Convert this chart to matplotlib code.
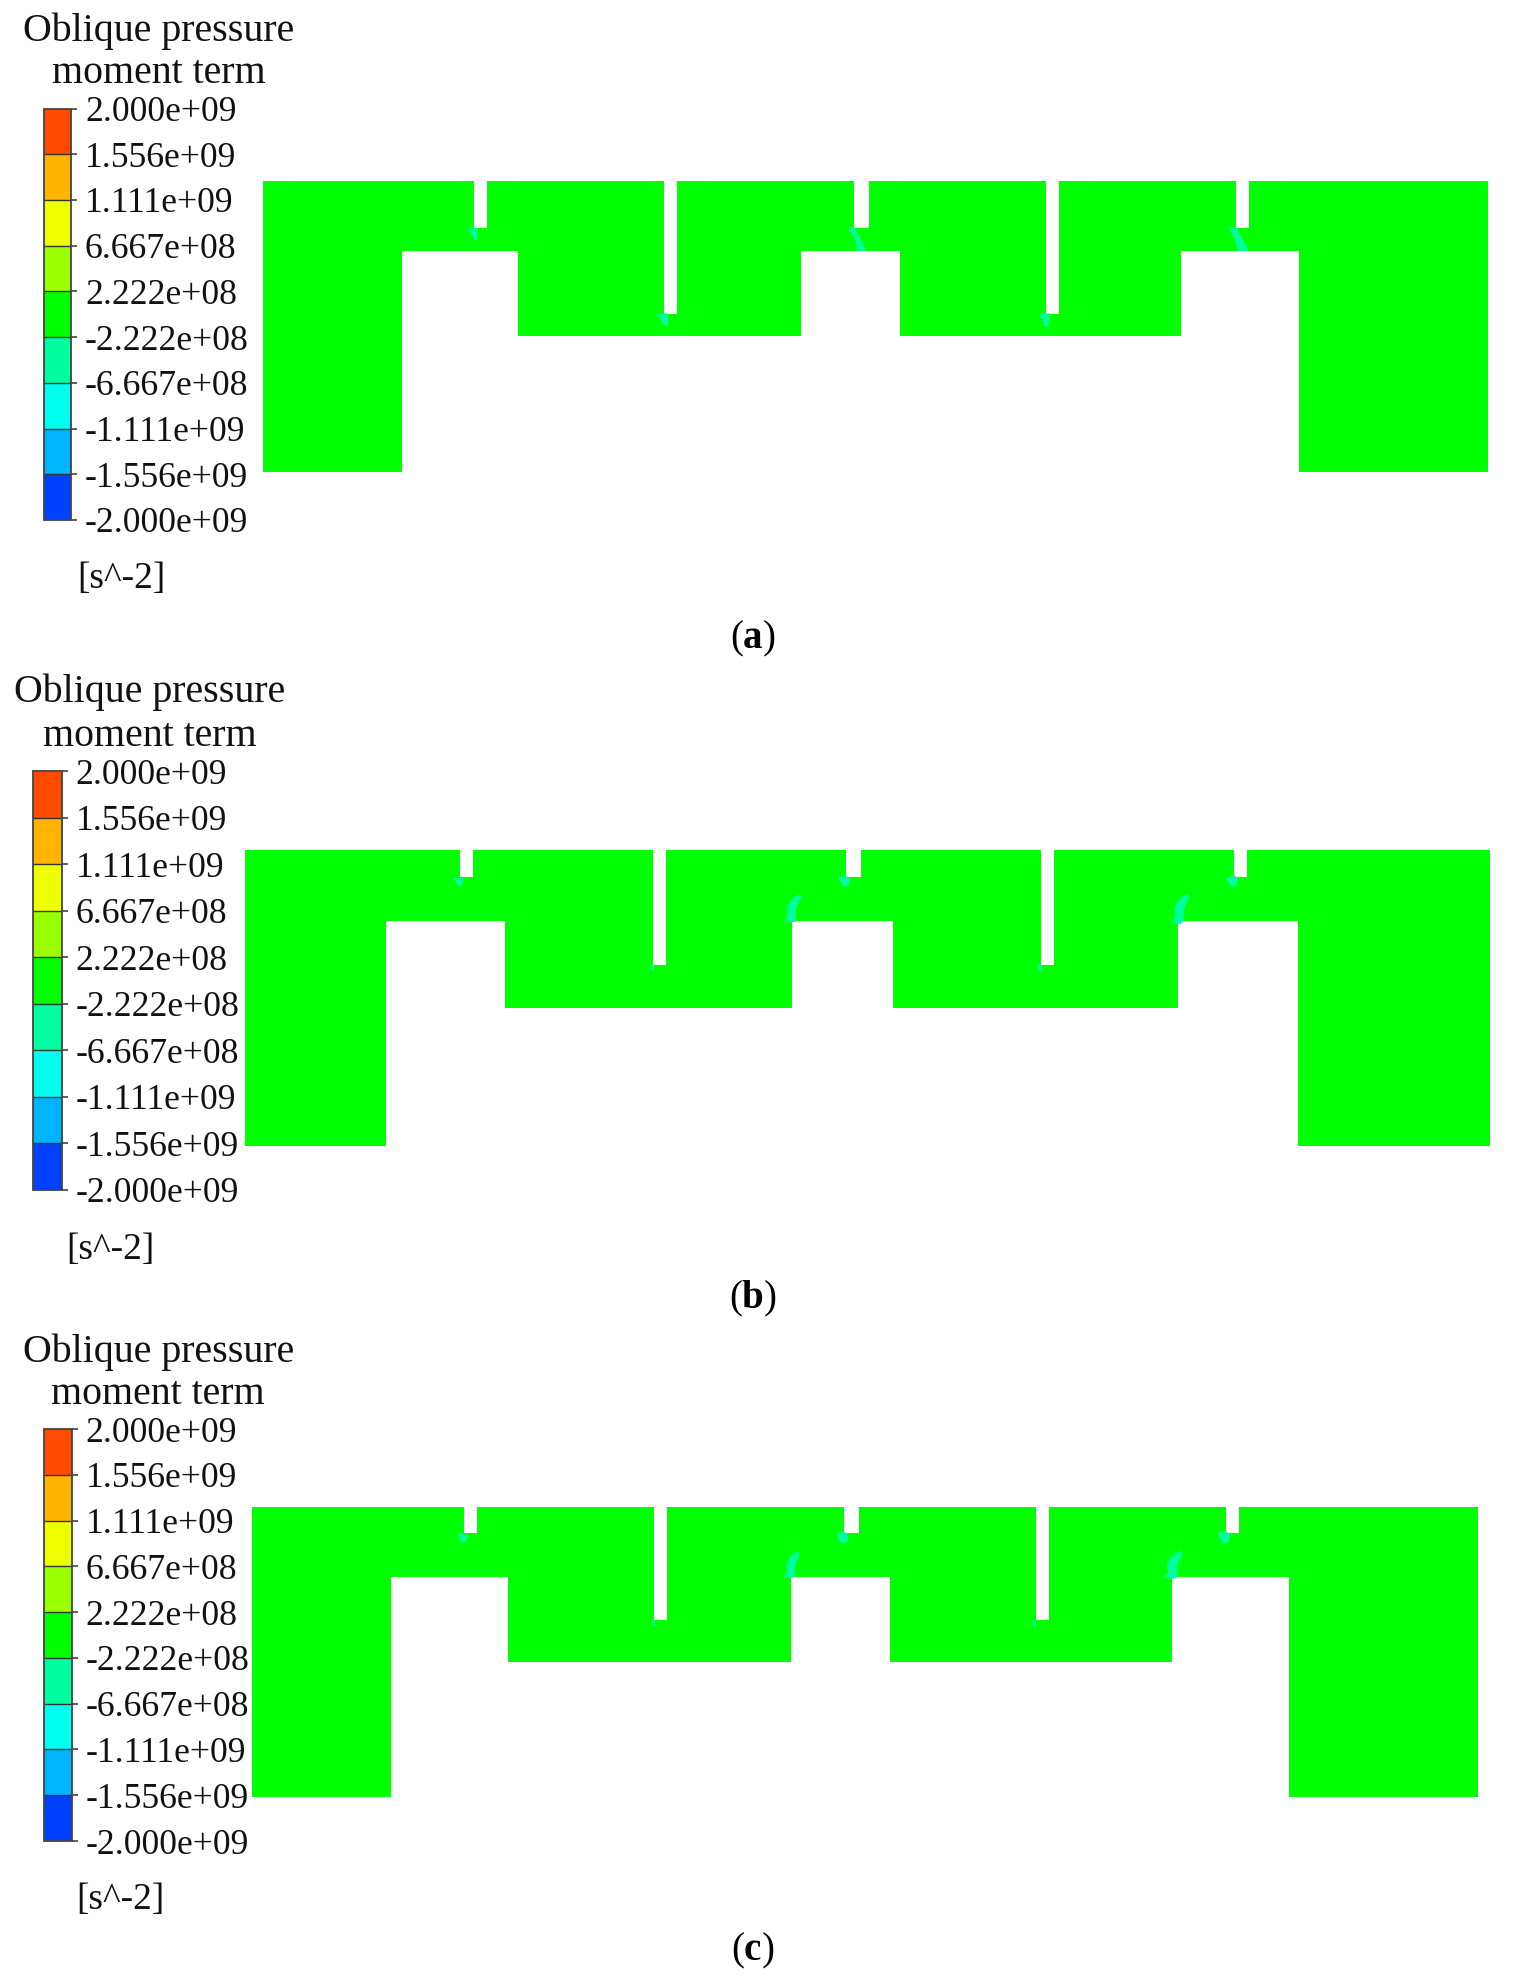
#%% import
import numpy as np
import matplotlib
matplotlib.use('Agg')
import matplotlib.pyplot as plt
from matplotlib.cm import ScalarMappable
from matplotlib.colors import BoundaryNorm, ListedColormap
from matplotlib.patches import Polygon

plt.rcParams['font.family'] = ['Liberation Serif', 'DejaVu Serif']
plt.rcParams['mathtext.fontset'] = 'custom'
plt.rcParams['mathtext.rm'] = 'Liberation Serif'
plt.rcParams['mathtext.bf'] = 'Liberation Serif:bold'

#%% data
levels = [-2.000e9, -1.556e9, -1.111e9, -6.667e8, -2.222e8, 2.222e8, 6.667e8, 1.111e9, 1.556e9, 2.000e9]
level_labels = ['-2.000e+09', '-1.556e+09', '-1.111e+09', '-6.667e+08', '-2.222e+08',
                '2.222e+08', '6.667e+08', '1.111e+09', '1.556e+09', '2.000e+09']
band_colors = ['#0040ff', '#00b4ff', '#00ffee', '#00ffa0', '#00ff00',
               '#99ff00', '#eeff00', '#ffb400', '#ff4a00']
field_color = '#00ff00'
blip_color = '#00ffa0'
title_lines = ['Oblique pressure', 'moment term']
unit_text = '[s^-2]'
captions = ['a', 'b', 'c']

# outline of the section in each panel, picture pixels
# left, left leg inner, right leg inner, right, top, web bottom, block bottom, leg bottom
frame_a = [263, 401.5, 1298.5, 1487.5, 181, 251, 336, 471.5]
frame_b = [244.7, 385.7, 1297.7, 1490, 850, 921, 1008, 1145.5]
frame_c = [251.7, 390.7, 1289.2, 1478, 1506.5, 1577, 1662.3, 1797]
blocks_a = [(518.3, 801), (900.2, 1181.3)]
blocks_b = [(504.7, 792), (892.5, 1178.4)]
blocks_c = [(508, 791), (890.1, 1171.5)]
slots_a = [(474, 487, 228), (664.3, 677, 314), (854.3, 868.7, 228), (1045.8, 1058.7, 314), (1235.8, 1248.8, 228)]
slots_b = [(459.7, 472.7, 877.3), (652.7, 666, 965.3), (846, 860.7, 877.3), (1040.5, 1053.9, 965.3), (1234.2, 1247.2, 877.3)]
slots_c = [(463.7, 476.7, 1533.3), (654, 666.7, 1620.3), (844.3, 858.7, 1533.3), (1035.7, 1048.6, 1620.3), (1226.1, 1239.1, 1533.3)]

# small regions at the slot tips
blips_a = [
    [(467.7, 227.7), (477.3, 228.3), (477.3, 240.7), (475, 240)],
    [(657.3, 314), (668.3, 313.3), (668.3, 325.7), (664.3, 325)],
    [(848.3, 227.7), (854.3, 226.7), (861.7, 241.7), (866.7, 250.7), (856.7, 250.7), (856, 241.7)],
    [(1039.7, 314), (1049.8, 313.3), (1048.6, 326.7), (1045, 326)],
    [(1228.6, 227.7), (1235.8, 226.7), (1248.8, 250.7), (1237.9, 250.7), (1235, 240)],
]
blips_b = [
    [(453.3, 877.7), (463.3, 878.3), (462.7, 883.3), (460, 887.3), (456.7, 883.3)],
    [(650, 965), (653.3, 965), (654.3, 970), (651.7, 970.7)],
    [(838.3, 877.7), (846, 875.7), (850, 878.3), (849.3, 883.3), (846, 887.3), (841.7, 885)],
    [(800, 894.3), (801.7, 896.7), (796, 908.3), (796, 921.7), (784.3, 922.7), (787.3, 917.3), (787.3, 906.7), (791.7, 899)],
    [(1036.9, 964.3), (1040.9, 965), (1042.6, 970.7), (1038.9, 971)],
    [(1226.1, 878.3), (1234.2, 875), (1237.9, 878.3), (1236.6, 885), (1233, 887.7), (1228.6, 883.3)],
    [(1187.3, 894), (1189.7, 896.7), (1184.1, 908.3), (1184.1, 920.7), (1180, 924.3), (1170.3, 921.7), (1175.2, 917.3), (1174, 908.3), (1179.2, 899)],
]
blips_c = [
    [(457.7, 1533.3), (467.7, 1535), (466.7, 1540), (463.3, 1543.3), (460, 1540)],
    [(651.7, 1620), (654.7, 1620.7), (655.3, 1625), (652.7, 1626)],
    [(836.7, 1533.3), (844, 1531.7), (848.3, 1535), (847.3, 1541.7), (843.3, 1543.3), (838.3, 1540)],
    [(798.3, 1550.7), (800, 1553.3), (795, 1565), (795, 1577.3), (783.3, 1578.3), (786.7, 1573.3), (786.7, 1563.3), (790.7, 1555.7)],
    [(1032, 1620), (1035.3, 1620.7), (1036.9, 1626), (1034.1, 1626.3)],
    [(1218, 1533.3), (1226.1, 1531), (1230.2, 1535), (1228.6, 1542.3), (1224.5, 1543.7), (1220.5, 1540)],
    [(1180, 1550.7), (1182.5, 1553.3), (1177.2, 1565), (1177.2, 1577.3), (1172, 1579.3), (1163.9, 1577.3), (1167.9, 1573.3), (1167.1, 1564), (1172, 1555.7)],
]

# colour bar box x0, x1, y top, y bottom; title centre, title y1, y2; unit x, y; caption y
legend_a = [43.5, 71, 108.5, 520, 158.5, 31, 73.5, 121.5, 579, 639]
legend_b = [32.7, 61.7, 771, 1190, 149.5, 692.5, 736, 110, 1249.5, 1299]
legend_c = [43.5, 71.7, 1429, 1841, 158.3, 1352, 1395, 120, 1900, 1951]

W, H = 1514, 1980

#%% figure
fig = plt.figure(figsize=(W / 100, H / 100), dpi=100)
ax = fig.add_axes([0, 0, 1, 1])
ax.set_xlim(0, W)
ax.set_ylim(H, 0)
ax.axis('off')

cmap = ListedColormap(band_colors)
norm = BoundaryNorm(levels, cmap.N)


def section_outline(frame, blocks, slots):
    left, leg_l, leg_r, right, top, web, block, bottom = frame
    pts = [(left, top)]
    for s0, s1, sb in slots:
        pts += [(s0, top), (s0, sb), (s1, sb), (s1, top)]
    pts += [(right, top), (right, bottom), (leg_r, bottom), (leg_r, web)]
    for b0, b1 in blocks[::-1]:
        pts += [(b1, web), (b1, block), (b0, block), (b0, web)]
    pts += [(leg_l, web), (leg_l, bottom), (left, bottom)]
    return np.array(pts)


panels = [(frame_a, blocks_a, slots_a, blips_a, legend_a),
          (frame_b, blocks_b, slots_b, blips_b, legend_b),
          (frame_c, blocks_c, slots_c, blips_c, legend_c)]

for (frame, blocks, slots, blips, legend), cap in zip(panels, captions):
    ax.add_patch(Polygon(section_outline(frame, blocks, slots), closed=True, fc=field_color, ec='none'))
    for b in blips:
        ax.add_patch(Polygon(np.array(b), closed=True, fc=blip_color, ec='none'))

    x0, x1, y0, y1, tx, ty1, ty2, ux, uy, cy = legend
    cax = fig.add_axes([x0 / W, 1 - y1 / H, (x1 - x0) / W, (y1 - y0) / H])
    cb = fig.colorbar(ScalarMappable(norm=norm, cmap=cmap), cax=cax, spacing='uniform',
                      ticks=levels, drawedges=True)
    cb.ax.set_yticklabels(level_labels)
    cb.ax.tick_params(length=4.5, width=1.1, pad=5.5, labelsize=25.7, color='#333333', labelcolor='#111111')
    cb.outline.set_edgecolor('#444444')
    cb.outline.set_linewidth(1.3)
    cb.dividers.set_color('#333333')
    cb.dividers.set_linewidth(1.0)

    ax.text(tx, ty1, title_lines[0], ha='center', va='center', fontsize=28.7, color='#111111')
    ax.text(tx, ty2, title_lines[1], ha='center', va='center', fontsize=28.7, color='#111111')
    ax.text(ux, uy, unit_text, ha='center', va='center', fontsize=27, color='#111111')
    ax.text(752.5, cy, '($\\mathbf{%s}$)' % cap, ha='center', va='center', fontsize=28, color='black')

fig.savefig('out.png', dpi=100)
